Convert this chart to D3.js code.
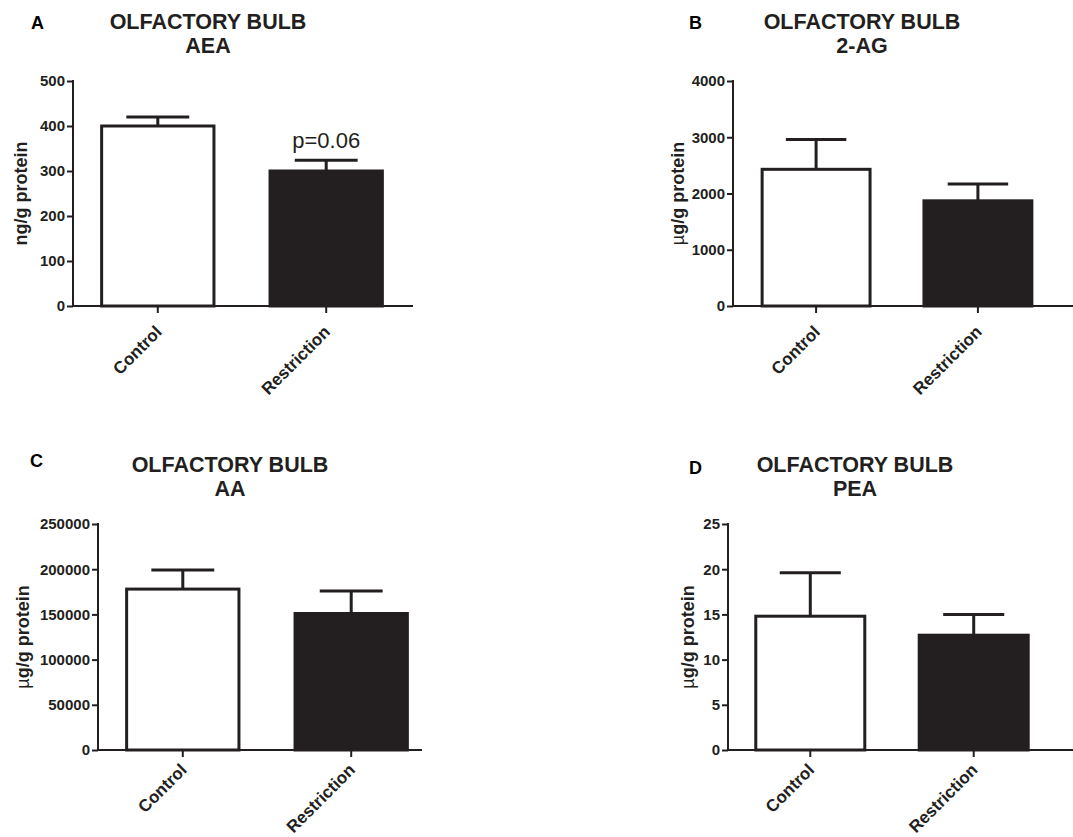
<!DOCTYPE html>
<html>
<head>
<meta charset="utf-8">
<script src="https://cdn.jsdelivr.net/npm/d3@7"></script>
<style>
  body { margin: 0; background: #fff; }
  svg { display: block; font-family: "Liberation Sans", Arial, sans-serif; }
  .tick text { font-size: 15px; font-weight: bold; fill: #231f20; }
</style>
</head>
<body>
<svg id="fig" width="1073" height="837"></svg>
<script>
const groups = ["Control", "Restriction"];

const aeaMean = [400, 300];
const aeaSem = [20, 24];
const aeaTicks = [0, 100, 200, 300, 400, 500];

const agMean = [2430, 1870];
const agSem = [530, 300];
const agTicks = [0, 1000, 2000, 3000, 4000];

const aaMean = [178000, 151000];
const aaSem = [21000, 25000];
const aaTicks = [0, 50000, 100000, 150000, 200000, 250000];

const peaMean = [14.8, 12.7];
const peaSem = [4.8, 2.3];
const peaTicks = [0, 5, 10, 15, 20, 25];

const ink = "#231f20";
const svg = d3.select("svg#fig");

/* draw one panel */
function drawPanel(opt) {
    const g = svg.append("g");

    let yScale = d3.scaleLinear()
        .domain([0, opt.ticks[opt.ticks.length - 1]])
        .range([opt.yBottom, opt.yTop]);

    let xScale = d3.scaleBand()
        .domain(groups)
        .range([opt.x0, opt.x0 + opt.bandWidth])
        .paddingInner(0.333)
        .paddingOuter(opt.outer);

    // y axis
    let yAxis = g.append("g")
        .attr("transform", "translate(" + opt.x0 + ",0)")
        .call(d3.axisLeft(yScale).tickValues(opt.ticks).tickSize(6).tickPadding(2).tickFormat(d3.format("d")));
    yAxis.select("path.domain").remove();
    yAxis.selectAll(".tick line").attr("stroke", ink).attr("stroke-width", 2);

    g.append("line")
        .attr("x1", opt.x0).attr("x2", opt.x0)
        .attr("y1", opt.yTop - 1).attr("y2", opt.yBottom)
        .attr("stroke", ink).attr("stroke-width", 2);

    // bars
    g.selectAll("rect.bar")
        .data(groups)
        .join("rect")
        .attr("class", "bar")
        .attr("x", d => xScale(d))
        .attr("y", (d, i) => yScale(opt.mean[i]))
        .attr("width", xScale.bandwidth())
        .attr("height", (d, i) => opt.yBottom - yScale(opt.mean[i]))
        .attr("fill", (d, i) => i === 0 ? "#ffffff" : ink)
        .attr("stroke", ink)
        .attr("stroke-width", 3);

    // error bars (upper only)
    let capHalf = xScale.bandwidth() * 0.28;
    groups.forEach((grp, i) => {
        let cx = xScale(grp) + xScale.bandwidth() / 2;
        let top = yScale(opt.mean[i] + opt.sem[i]);
        g.append("line")
            .attr("x1", cx).attr("x2", cx)
            .attr("y1", yScale(opt.mean[i])).attr("y2", top)
            .attr("stroke", ink).attr("stroke-width", 3);
        g.append("line")
            .attr("x1", cx - capHalf).attr("x2", cx + capHalf)
            .attr("y1", top).attr("y2", top)
            .attr("stroke", ink).attr("stroke-width", 3);
    });

    // x axis line + ticks
    g.append("line")
        .attr("x1", opt.x0).attr("x2", opt.xEnd)
        .attr("y1", opt.yBottom).attr("y2", opt.yBottom)
        .attr("stroke", ink).attr("stroke-width", 2);

    let xAxis = g.append("g")
        .attr("transform", "translate(0," + opt.yBottom + ")")
        .call(d3.axisBottom(xScale).tickSize(7).tickFormat(""));
    xAxis.select("path.domain").remove();
    xAxis.selectAll(".tick line").attr("stroke", ink).attr("stroke-width", 2);

    groups.forEach(grp => {
        let cx = xScale(grp) + xScale.bandwidth() / 2;
        g.append("text")
            .attr("transform", "translate(" + (cx + 5) + "," + (opt.yBottom + opt.labelDy) + ")rotate(-45)")
            .attr("text-anchor", "end")
            .style("font-size", "17px")
            .style("font-weight", "bold")
            .attr("fill", ink)
            .text(grp);
    });

    // y label
    let yl = g.append("text")
        .attr("transform", "translate(" + opt.yLabelX + "," + ((opt.yTop + opt.yBottom) / 2) + ")rotate(-90)")
        .attr("text-anchor", "middle")
        .style("font-size", "18px")
        .style("font-weight", "bold")
        .attr("fill", ink);
    if (opt.micro) {
        yl.append("tspan").style("font-weight", "normal").text("\u00b5");
        yl.append("tspan").text("g/g protein");
    } else {
        yl.text("ng/g protein");
    }

    // titles
    g.append("text")
        .attr("x", opt.titleX).attr("y", opt.titleY)
        .attr("text-anchor", "middle")
        .style("font-size", "21.5px").style("font-weight", "bold")
        .attr("fill", ink)
        .text("OLFACTORY BULB");
    g.append("text")
        .attr("x", opt.titleX).attr("y", opt.titleY + 24)
        .attr("text-anchor", "middle")
        .style("font-size", "21.5px").style("font-weight", "bold")
        .attr("fill", ink)
        .text(opt.sub);

    g.append("text")
        .attr("x", opt.letterX).attr("y", opt.letterY)
        .style("font-size", "18px").style("font-weight", "bold")
        .attr("fill", "#000")
        .text(opt.letter);

    return { g: g, xScale: xScale, yScale: yScale };
}

let panelA = drawPanel({
    mean: aeaMean, sem: aeaSem, ticks: aeaTicks,
    x0: 73, bandWidth: 338, outer: 0.17, xEnd: 413,
    yTop: 81, yBottom: 306, yLabelX: 27, micro: false, labelDy: 27,
    titleX: 208, titleY: 29, sub: "AEA", letter: "A", letterX: 31, letterY: 29
});

// p value over restriction bar
panelA.g.append("text")
    .attr("x", panelA.xScale("Restriction") + panelA.xScale.bandwidth() / 2)
    .attr("y", panelA.yScale(aeaMean[1] + aeaSem[1]) - 12)
    .attr("text-anchor", "middle")
    .style("font-size", "22px")
    .attr("fill", ink)
    .text("p=0.06");

drawPanel({
    mean: agMean, sem: agSem, ticks: agTicks,
    x0: 733, bandWidth: 328, outer: 0.18, xEnd: 1073,
    yTop: 81, yBottom: 306, yLabelX: 684, micro: true, labelDy: 27,
    titleX: 862, titleY: 29, sub: "2-AG", letter: "B", letterX: 689, letterY: 29
});

drawPanel({
    mean: aaMean, sem: aaSem, ticks: aaTicks,
    x0: 98, bandWidth: 338, outer: 0.17, xEnd: 422,
    yTop: 524, yBottom: 750, yLabelX: 29, micro: true, labelDy: 21,
    titleX: 230, titleY: 472, sub: "AA", letter: "C", letterX: 30, letterY: 467
});

drawPanel({
    mean: peaMean, sem: peaSem, ticks: peaTicks,
    x0: 728, bandWidth: 328, outer: 0.17, xEnd: 1073,
    yTop: 524, yBottom: 750, yLabelX: 694, micro: true, labelDy: 21,
    titleX: 855, titleY: 472, sub: "PEA", letter: "D", letterX: 689, letterY: 474
});
</script>
</body>
</html>
